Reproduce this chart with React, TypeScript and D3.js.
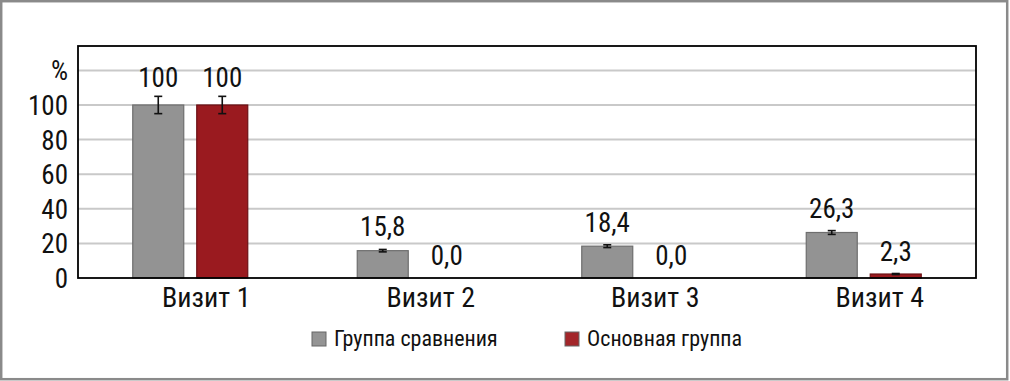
import React from "react";
import * as d3 from "d3";

const categories = ["Визит 1", "Визит 2", "Визит 3", "Визит 4"];
const seriesNames = ["Группа сравнения", "Основная группа"];
const comparisonValues = [100, 15.8, 18.4, 26.3];
const mainValues = [100, 0.0, 0.0, 2.3];
const comparisonErrors = [5, 0.7, 0.8, 1.1];
const mainErrors = [5, 0, 0, 0.3];
const valueLabelsComparison = ["100", "15,8", "18,4", "26,3"];
const valueLabelsMain = ["100", "0,0", "0,0", "2,3"];
const yTicks = [0, 20, 40, 60, 80, 100];
const yGridTop = 120;

const W = 1010;
const H = 381;
const plot = { left: 78, right: 976, top: 46, bottom: 278 };
const FONT = "'Liberation Sans Narrow', 'Arial Narrow', 'Roboto Condensed', sans-serif";

const fills = ["#939393", "#9a1a1f"];
const strokes = ["#6e6e6e", "#6b1014"];
const legendFills = ["#949494", "#a3262a"];

export default function App() {
  const y = d3.scaleLinear().domain([0, 134.1]).range([plot.bottom, plot.top]);
  const x0 = d3.scaleBand().domain(categories).range([plot.left, plot.right]).paddingInner(0).paddingOuter(0);
  const x1 = d3.scaleBand().domain(seriesNames).range([-32 - 25.5, 32 + 25.5]).paddingInner(13 / 64);
  const values = [comparisonValues, mainValues];
  const errors = [comparisonErrors, mainErrors];
  const labels = [valueLabelsComparison, valueLabelsMain];

  return (
    <svg width={W} height={H} style={{ position: "absolute", left: 0, top: 0, display: "block" }}>
      <rect x={0} y={0} width={W} height={H} fill="#ffffff" />
      <rect x={1.2} y={1.2} width={1006} height={378} fill="none" stroke="#8a8a8a" strokeWidth={2.5} />
      {/* gridlines */}
      {[...yTicks.slice(1), yGridTop].map((t) => (
        <line key={t} x1={plot.left} x2={plot.right} y1={y(t)} y2={y(t)} stroke="#c9c9c9" strokeWidth={2} />
      ))}
      {/* y tick labels */}
      {yTicks.map((t) => (
        <text key={t} x={68} y={y(t) + 10} textAnchor="end" fontFamily={FONT} fontSize={27} fill="#111">
          {t}
        </text>
      ))}
      <text x={68} y={y(yGridTop) + 10} textAnchor="end" fontFamily={FONT} fontSize={27} fill="#111">%</text>
      {/* bars */}
      {categories.map((c, i) => {
        const cx = (x0(c) as number) + x0.bandwidth() / 2;
        return (
          <g key={c}>
            {seriesNames.map((s, j) => {
              const bx = cx + (x1(s) as number);
              const bw = x1.bandwidth();
              const v = values[j][i];
              const e = errors[j][i];
              const top = y(v);
              const h = y(0) - top;
              const mid = bx + bw / 2;
              return (
                <g key={s}>
                  {h > 0.5 && (
                    <rect x={bx} y={top} width={bw} height={h} fill={fills[j]} stroke={strokes[j]} strokeWidth={1.2} />
                  )}
                  {e > 0 && (
                    <g stroke="#111" strokeWidth={1.6}>
                      <line x1={mid} x2={mid} y1={y(v + e)} y2={y(v - e)} />
                      <line x1={mid - 4} x2={mid + 4} y1={y(v + e)} y2={y(v + e)} />
                      <line x1={mid - 4} x2={mid + 4} y1={y(v - e)} y2={y(v - e)} />
                    </g>
                  )}
                  <text
                    x={mid}
                    y={y(v + e) - (v > 50 ? 9 : 13)}
                    textAnchor="middle"
                    fontFamily={FONT}
                    fontSize={27}
                    fill="#111"
                  >
                    {labels[j][i]}
                  </text>
                </g>
              );
            })}
            <text x={cx + 16} y={plot.bottom + 29} textAnchor="middle" fontFamily={FONT} fontSize={28} fill="#111">
              {c}
            </text>
          </g>
        );
      })}
      {/* frame */}
      <rect x={plot.left} y={plot.top} width={plot.right - plot.left} height={plot.bottom - plot.top} fill="none" stroke="#000" strokeWidth={1.8} />
      {/* legend */}
      {seriesNames.map((s, j) => {
        const lx = j === 0 ? 312 : 565;
        return (
          <g key={s}>
            <rect x={lx} y={332} width={14} height={14} fill={legendFills[j]} stroke="#666" strokeWidth={1} />
            <text x={lx + 22} y={346} fontFamily={FONT} fontSize={22} fill="#111">{s}</text>
          </g>
        );
      })}
    </svg>
  );
}
